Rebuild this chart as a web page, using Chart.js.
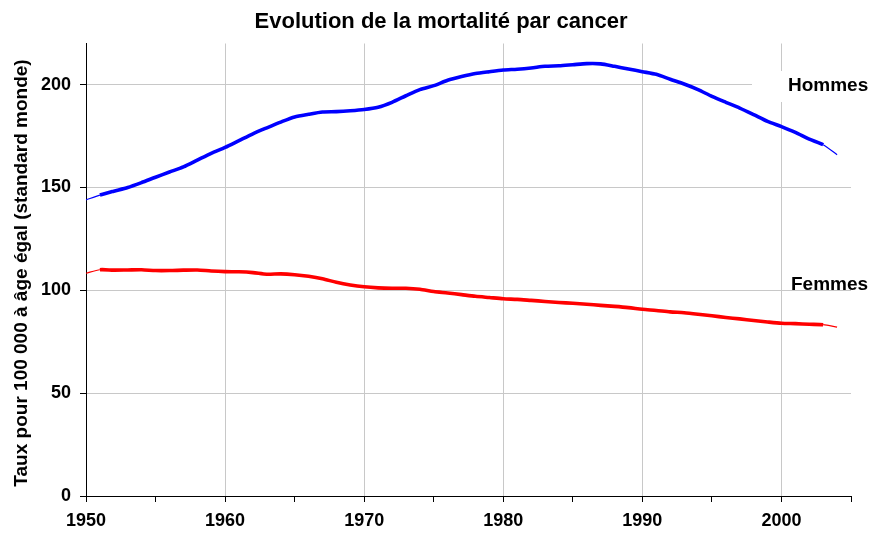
<!DOCTYPE html>
<html>
<head>
<meta charset="utf-8">
<script src="https://cdn.jsdelivr.net/npm/chart.js@4/dist/chart.umd.min.js"></script>
<style>
  html, body { margin: 0; padding: 0; background: #fff; }
  #chart { display: block; }
</style>
</head>
<body>
<canvas id="chart" width="872" height="534"></canvas>
<script>
const YEARS = [
    1950, 1951, 1952, 1953, 1954, 1955, 1956, 1957, 1958, 1959,
    1960, 1961, 1962, 1963, 1964, 1965, 1966, 1967, 1968, 1969,
    1970, 1971, 1972, 1973, 1974, 1975, 1976, 1977, 1978, 1979,
    1980, 1981, 1982, 1983, 1984, 1985, 1986, 1987, 1988, 1989,
    1990, 1991, 1992, 1993, 1994, 1995, 1996, 1997, 1998, 1999,
    2000, 2001, 2002, 2003, 2004
];
const HOMMES = [
    144.0, 146.3, 148.2, 150.0, 152.4, 155.0, 157.5, 160.0, 163.3, 166.6,
    169.5, 172.8, 176.1, 179.0, 181.8, 184.3, 185.6, 186.7, 186.9, 187.3,
    187.9, 189.0, 191.4, 194.6, 197.6, 199.5, 202.1, 203.9, 205.4, 206.3,
    207.1, 207.5, 208.1, 208.9, 209.2, 209.7, 210.2, 210.1, 208.9, 207.6,
    206.3, 205.0, 202.6, 200.3, 197.6, 194.3, 191.4, 188.6, 185.4, 182.1,
    179.6, 176.8, 173.5, 170.8, 165.9
];
const FEMMES = [
    108.3, 110.0, 109.8, 109.9, 110.0, 109.6, 109.6, 109.8, 109.9, 109.4,
    109.1, 109.0, 108.6, 107.8, 108.0, 107.6, 106.8, 105.6, 103.9, 102.6,
    101.7, 101.2, 101.0, 101.0, 100.5, 99.4, 98.7, 97.9, 97.1, 96.5,
    95.9, 95.6, 95.1, 94.6, 94.1, 93.7, 93.2, 92.7, 92.2, 91.6,
    90.8, 90.2, 89.5, 89.1, 88.4, 87.6, 86.8, 86.1, 85.3, 84.6,
    84.0, 83.8, 83.5, 83.3, 82.1
];
const SERIES_NAMES = ['Hommes', 'Femmes'];
const TITLE = 'Evolution de la mortalité par cancer';
const Y_TITLE = 'Taux pour 100 000 à âge égal (standard monde)';

const FONT = '"Liberation Sans", Arial, sans-serif';
const GRID = '#c8c8c8';

Chart.defaults.color = '#000';
Chart.defaults.font.family = FONT;

function toPoints(values) {
    return YEARS.map((y, i) => ({ x: y, y: values[i] }));
}

// first and last segments are drawn thin, like the original
function segWidth(ctx) {
    const last = YEARS.length - 2;
    return (ctx.p0DataIndex < 1 || ctx.p0DataIndex >= last) ? 1.2 : 3.6;
}

// titles and series names, placed like the original picture
const chartTexts = {
    id: 'chartTexts',
    afterDraw(chart) {
        const c = chart.ctx;
        c.save();
        c.fillStyle = '#fff';
        c.fillRect(752, 71, 120, 31);

        c.fillStyle = '#000';
        c.textBaseline = 'middle';
        c.textAlign = 'center';
        c.font = 'bold 22px ' + FONT;
        c.fillText(TITLE, 441, 22);

        c.save();
        c.translate(22, 273);
        c.rotate(-Math.PI / 2);
        c.font = 'bold 19px ' + FONT;
        c.fillText(Y_TITLE, 0, 0);
        c.restore();

        c.textAlign = 'left';
        c.font = 'bold 19px ' + FONT;
        c.fillText(SERIES_NAMES[0], 788, 86);
        c.fillText(SERIES_NAMES[1], 791, 285);
        c.restore();
    }
};

new Chart(document.getElementById('chart'), {
    type: 'line',
    data: {
        datasets: [
            {
                label: SERIES_NAMES[0],
                data: toPoints(HOMMES),
                borderColor: '#0000ff',
                borderWidth: 3.6,
                pointRadius: 0,
                tension: 0.25,
                segment: { borderWidth: segWidth }
            },
            {
                label: SERIES_NAMES[1],
                data: toPoints(FEMMES),
                borderColor: '#ff0000',
                borderWidth: 3.6,
                pointRadius: 0,
                tension: 0.25,
                segment: { borderWidth: segWidth }
            }
        ]
    },
    options: {
        responsive: false,
        animation: false,
        layout: { padding: { left: 0, right: 21, top: 43.5, bottom: 0 } },
        plugins: {
            legend: { display: false },
            tooltip: { enabled: false },
            title: { display: false }
        },
        scales: {
            x: {
                type: 'linear',
                min: 1950,
                max: 2005,
                afterFit: s => { s.height = 38; },
                border: { color: '#000', width: 1 },
                grid: {
                    color: ctx => (ctx.tick && ctx.tick.value % 10 === 0 && ctx.tick.value > 1950 && ctx.tick.value < 2005) ? GRID : 'rgba(0,0,0,0)',
                    tickColor: '#000',
                    tickLength: 6
                },
                ticks: {
                    stepSize: 5,
                    autoSkip: false,
                    maxRotation: 0,
                    padding: 8,
                    font: { size: 18, weight: 'bold' },
                    callback: v => (v % 10 === 0 && v < 2005) ? String(v) : ''
                }
            },
            y: {
                min: 0,
                max: 220,
                afterFit: s => { s.width = 86; },
                border: { color: '#000', width: 1 },
                grid: {
                    color: ctx => (ctx.tick && ctx.tick.value > 0) ? GRID : 'rgba(0,0,0,0)',
                    tickColor: '#000',
                    tickLength: 6
                },
                ticks: {
                    stepSize: 50,
                    includeBounds: false,
                    padding: 9,
                    font: { size: 18, weight: 'bold' }
                }
            }
        }
    },
    plugins: [chartTexts]
});
</script>
</body>
</html>
